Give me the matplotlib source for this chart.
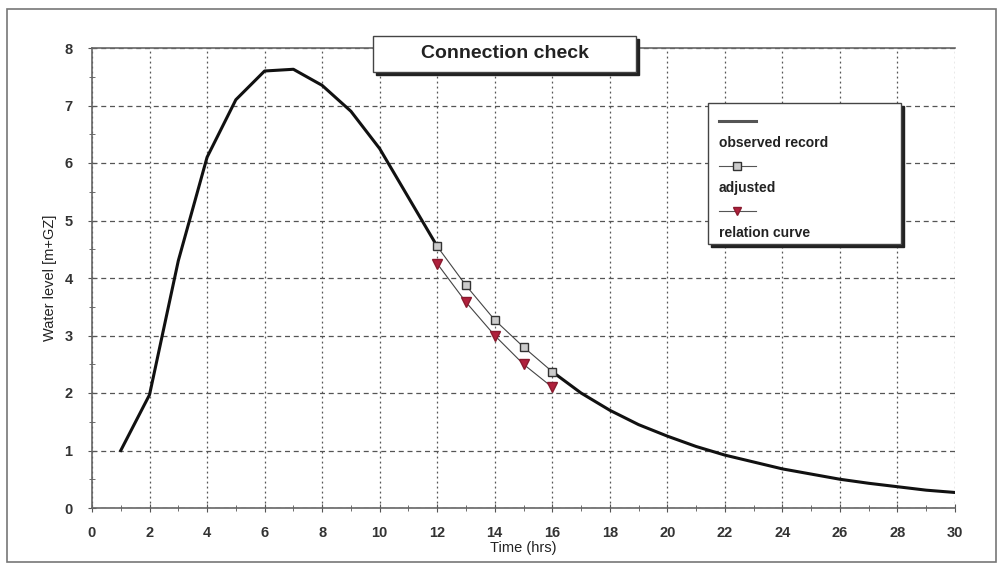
import matplotlib.pyplot as plt
from matplotlib.patches import Rectangle
from matplotlib.lines import Line2D

plt.rcParams['font.family'] = ['Liberation Sans', 'DejaVu Sans']

# ---------------------DATA-------------------------------------------
hours = [1, 2, 3, 4, 5, 6, 7, 8, 9, 10, 11, 12, 13, 14, 15, 16, 17, 18, 19, 20,
         21, 22, 23, 24, 25, 26, 27, 28, 29, 30]
level = [1.0, 1.97, 4.3, 6.1, 7.1, 7.6, 7.63, 7.35, 6.9, 6.25, 5.4, 4.55, 3.85,
         3.27, 2.78, 2.37, 2.0, 1.7, 1.45, 1.25, 1.07, 0.92, 0.8, 0.68, 0.59,
         0.5, 0.43, 0.37, 0.31, 0.27]

obs_hours = [12, 13, 14, 15, 16]
obs_level = [4.55, 3.87, 3.27, 2.8, 2.37]
adj_level = [4.25, 3.58, 3.0, 2.5, 2.1]

legend_labels = ["observed record", "adjusted", "relation curve"]
# --------------------------------------------------------------------

fig = plt.figure(figsize=(10.01, 5.72), dpi=100)
ax = fig.add_axes([92 / 1001, 1 - 508 / 572, (955 - 92) / 1001, (508 - 48) / 572])

# outer frame of the picture
fig.patches.append(Rectangle((7 / 1001, 1 - 562 / 572), 989 / 1001, 553 / 572,
                             transform=fig.transFigure, fill=False,
                             edgecolor='#777777', lw=1.2))

# thick curve is broken where the observed record lies
t0, t1 = obs_hours[0], obs_hours[-1]
for sel in (lambda t: t <= t0, lambda t: t >= t1):
    xs = [t for t in hours if sel(t)]
    ys = [v for t, v in zip(hours, level) if sel(t)]
    ax.plot(xs, ys, color='#111111', lw=2.2, zorder=3)

ax.plot(obs_hours, obs_level, color='#444444', lw=0.8, marker='s', ms=6,
        mfc='#cccccc', mec='#333333', mew=1.0, zorder=4)
ax.plot(obs_hours, adj_level, color='#444444', lw=0.8, marker='v', ms=6.5,
        mfc='#b0203c', mec='#8a1a2e', zorder=4)

ax.set_xlim(0, 30)
ax.set_ylim(0, 8)
ax.set_xticks(range(0, 31, 2))
ax.set_xticks(range(0, 31, 1), minor=True)
ax.set_yticks(range(0, 9))
ax.set_yticks([i + 0.5 for i in range(8)], minor=True)

ax.grid(True, axis='x', which='major', ls=(0, (1.5, 2.5)), color='#555555', lw=0.9)
ax.grid(True, axis='y', which='major', ls=(0, (4, 3)), color='#555555', lw=0.9)
ax.tick_params(which='both', direction='inout', color='#555555')
ax.tick_params(which='major', length=6, labelsize=10.5, labelcolor='#333333')
ax.tick_params(axis='x', which='major', pad=10)
ax.tick_params(axis='y', which='major', pad=11)
ax.tick_params(which='minor', length=5)
for lab in ax.get_xticklabels() + ax.get_yticklabels():
    lab.set_fontweight('bold')
for s in ax.spines.values():
    s.set_color('#666666')
    s.set_linewidth(1.2)
ax.spines['right'].set_visible(False)

ax.set_xlabel('Time (hrs)', fontsize=10.5, color='#222222', labelpad=1)
ax.set_ylabel('Water level [m+GZ]', fontsize=10.5, color='#222222', labelpad=5)

# box with a dark shadow, given in pixel corners
def box(x0, y0, x1, y1):
    w, h = (x1 - x0) / 1001, (y1 - y0) / 572
    fig.patches.append(Rectangle((x0 / 1001 + 3 / 1001, 1 - y1 / 572 - 3 / 572), w, h,
                                 transform=fig.transFigure, color='#222222', zorder=5))
    fig.patches.append(Rectangle((x0 / 1001, 1 - y1 / 572), w, h, transform=fig.transFigure,
                                 facecolor='white', edgecolor='#444444', lw=1.0, zorder=6))

box(373, 36, 636, 72)
fig.text(505 / 1001, 1 - 53 / 572, 'Connection check', ha='center', va='center',
         fontsize=14, fontweight='bold', color='#222222', zorder=7)

# legend box, handle on one row and its label below it
box(708, 103, 901, 244)
handles = [dict(color='#555555', lw=2.2),
           dict(color='#555555', lw=0.8, marker='s', ms=5.5, mfc='#cccccc', mec='#333333'),
           dict(color='#555555', lw=0.8, marker='v', ms=6, mfc='#b0203c', mec='#8a1a2e')]
for i, (kw, lab) in enumerate(zip(handles, legend_labels)):
    yh = 121 + i * 45
    fig.add_artist(Line2D([719 / 1001, 737 / 1001, 756 / 1001], [1 - yh / 572] * 3,
                          transform=fig.transFigure, markevery=[1], zorder=7, **kw))
    fig.text(719 / 1001, 1 - (yh + 22) / 572, lab, ha='left', va='center',
             fontsize=10, fontweight='bold', color='#222222', zorder=7)

fig.savefig('out.png', dpi=100)
